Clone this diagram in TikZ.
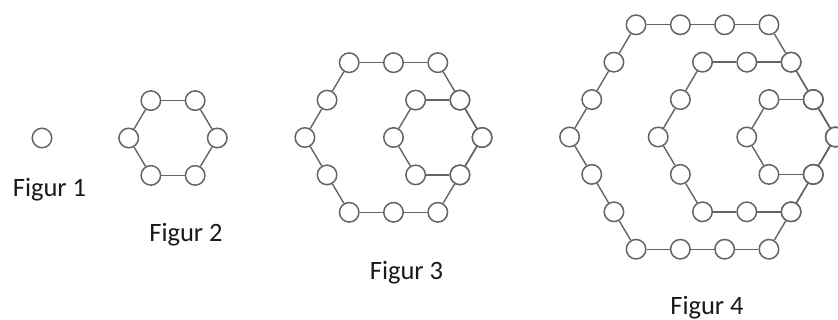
\documentclass[tikz,border=0pt]{standalone}
\usepackage{fontspec}
\setmainfont{Carlito}
\definecolor{ringgray}{RGB}{100,100,100}
\definecolor{txtcol}{RGB}{25,25,25}
\tikzset{
  ring/.style={circle, draw=ringgray, fill=white, line width=1.5pt, minimum size=19.5pt, inner sep=0pt},
  link/.style={draw=ringgray, line width=1.4pt},
  lbl/.style={font=\fontsize{26.5}{30}\selectfont, text=txtcol, anchor=base, inner sep=0pt}
}
\def\sp{44.3}
\def\hh{43.19}
\begin{document}
\begin{tikzpicture}[x=1pt,y=1pt]
\useasboundingbox (0,0) rectangle (838,-320);
% Figure 1
\node[ring] (f1) at (42,-138) {};
% Figures 2-4
\foreach \n/\cx/\cy in {2/173/138, 3/393.5/137.5, 4/702.5/137} {
  \pgfmathtruncatemacro\m{\n-1}
  \foreach \k in {1,...,\m} {
    \pgfmathsetmacro\hx{\cx + (\n-1-\k)*\sp}
    \pgfmathtruncatemacro\N{6*\k}
    \pgfmathtruncatemacro\km{\k-1}
    \foreach \j in {0,...,5} {
      \foreach \t in {0,...,\km} {
        \pgfmathsetmacro\vx{\hx + \k*\sp*cos(60*\j) + \t*\sp*cos(60*(\j+2))}
        \pgfmathsetmacro\vy{-\cy + \k*\hh*sin(60*\j) + \t*\hh*sin(60*(\j+2))}
        \pgfmathtruncatemacro\ii{\j*\k+\t}
        \node[ring] (f\n k\k i\ii) at (\vx,\vy) {};
      }
    }
    \pgfmathtruncatemacro\Nm{\N-1}
    \foreach \ii in {0,...,\Nm} {
      \pgfmathtruncatemacro\nx{mod(\ii+1,\N)}
      \draw[link] (f\n k\k i\ii) -- (f\n k\k i\nx);
    }
  }
}
% Labels
\node[lbl] (l1) at (49.5,-197) {Figur 1};
\node[lbl] (l2) at (186,-242) {Figur 2};
\node[lbl] (l3) at (406.5,-280) {Figur 3};
\node[lbl] (l4) at (707,-315) {Figur 4};
\end{tikzpicture}
\end{document}
